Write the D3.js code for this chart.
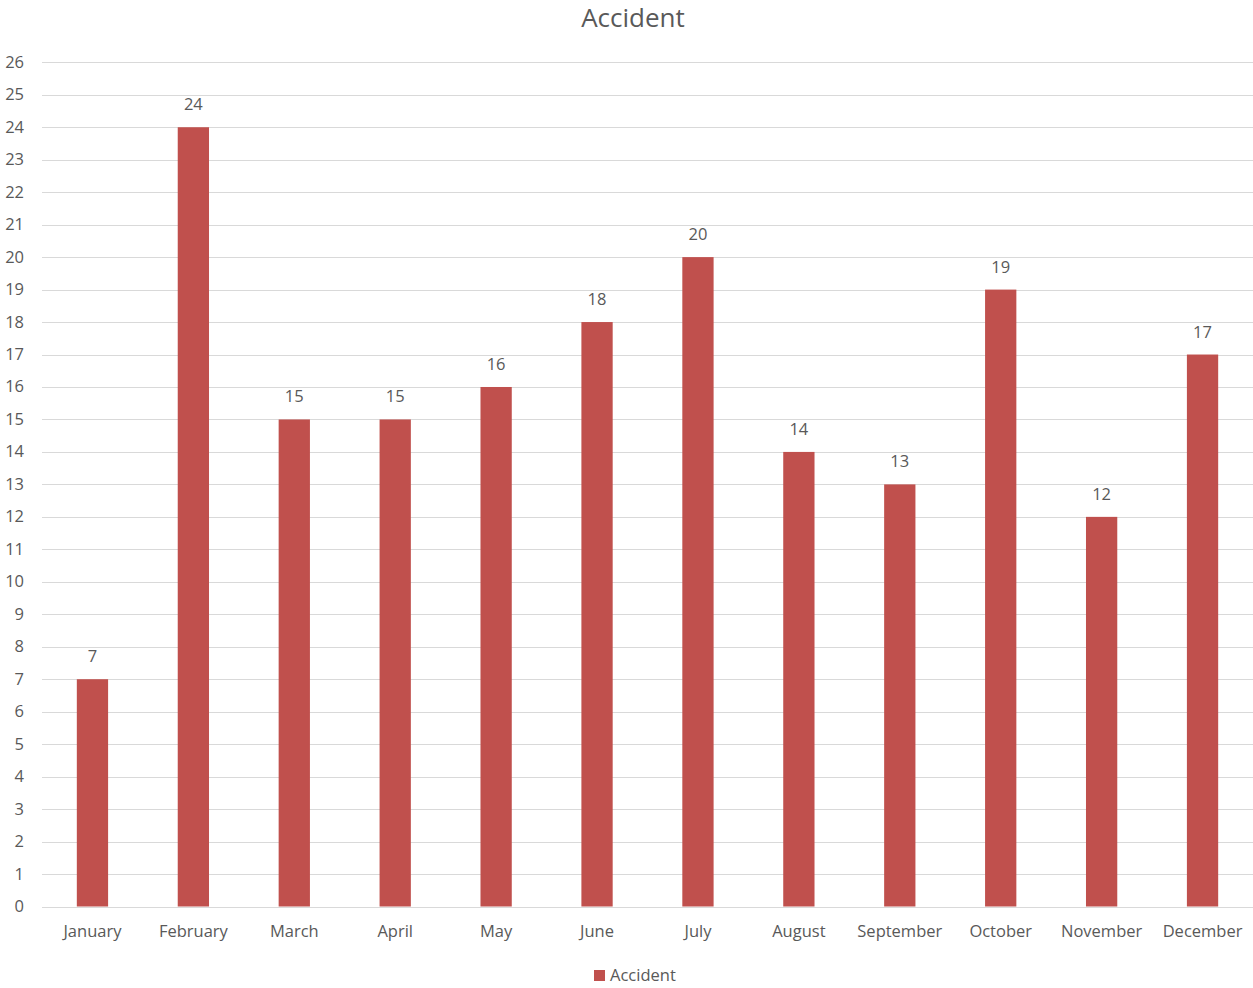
<!DOCTYPE html>
<html><head><meta charset="utf-8">
<script src="https://cdn.jsdelivr.net/npm/d3@7"></script>
<style>body{margin:0;background:#fff;} text{font-family:"Open Sans","Liberation Sans",sans-serif;fill:#595959;}</style>
</head><body>
<svg id="c" width="1253" height="988"></svg>
<script>
const categories = ["January","February","March","April","May","June","July","August","September","October","November","December"];
const values = [7,24,15,15,16,18,20,14,13,19,12,17];
const yTicks = d3.range(0,27);
const seriesName = "Accident";

const svg = d3.select("#c");
const x = d3.scaleBand().domain(categories).range([42,1253]).paddingInner(0.69).paddingOuter(0.345);
const y = d3.scaleLinear().domain([0,26]).range([906.5,62.3]);

svg.append("g").selectAll("line").data(yTicks).join("line")
  .attr("x1",42).attr("x2",1253).attr("y1",d=>Math.round(y(d))+0.5).attr("y2",d=>Math.round(y(d))+0.5)
  .attr("stroke","#d9d9d9").attr("stroke-width",1);

svg.append("g").selectAll("text").data(yTicks).join("text")
  .attr("x",24).attr("y",d=>y(d)+5.5).attr("text-anchor","end").attr("font-size",16.5).text(d=>d);

svg.append("g").selectAll("rect").data(values).join("rect")
  .attr("x",(d,i)=>x(categories[i])).attr("width",x.bandwidth())
  .attr("y",d=>y(d)).attr("height",d=>y(0)-y(d)).attr("fill","#c0504d");

svg.append("g").selectAll("text").data(values).join("text")
  .attr("x",(d,i)=>x(categories[i])+x.bandwidth()/2).attr("y",d=>y(d)-17)
  .attr("text-anchor","middle").attr("font-size",16.5).text(d=>d);

svg.append("g").selectAll("text").data(categories).join("text")
  .attr("x",d=>x(d)+x.bandwidth()/2).attr("y",937)
  .attr("text-anchor","middle").attr("font-size",16.5).text(d=>d);

svg.append("text").attr("x",633).attr("y",27).attr("text-anchor","middle").attr("font-size",26).text(seriesName);

svg.append("rect").attr("x",594).attr("y",970).attr("width",11).attr("height",11).attr("fill","#c0504d");
svg.append("text").attr("x",610).attr("y",981).attr("font-size",16.5).text(seriesName);
</script>
</body></html>
